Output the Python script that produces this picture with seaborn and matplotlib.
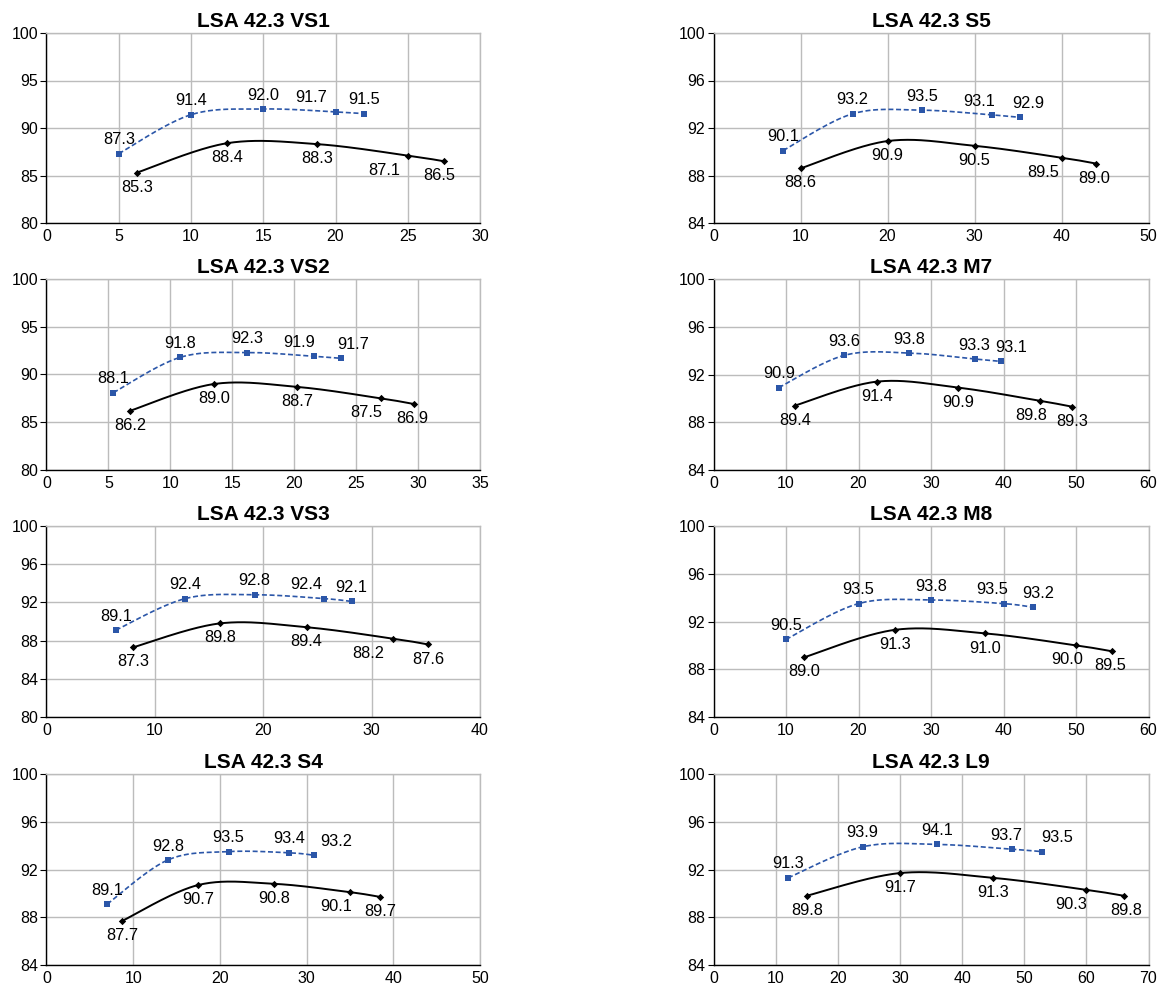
import numpy as np
import pandas as pd
import matplotlib
matplotlib.use("Agg")
import matplotlib.pyplot as plt
import seaborn as sns

# panel titles, left column first row by row
titles = ["LSA 42.3 VS1", "LSA 42.3 S5", "LSA 42.3 VS2", "LSA 42.3 M7",
          "LSA 42.3 VS3", "LSA 42.3 M8", "LSA 42.3 S4", "LSA 42.3 L9"]

# blue dashed series (squares)
blue_x = [[5, 10, 15, 20, 22],
          [8, 16, 24, 32, 35.2],
          [5.4, 10.8, 16.2, 21.6, 23.76],
          [9, 18, 27, 36, 39.6],
          [6.4, 12.8, 19.2, 25.6, 28.16],
          [10, 20, 30, 40, 44],
          [7, 14, 21, 28, 30.8],
          [12, 24, 36, 48, 52.8]]
blue_y = [[87.3, 91.4, 92.0, 91.7, 91.5],
          [90.1, 93.2, 93.5, 93.1, 92.9],
          [88.1, 91.8, 92.3, 91.9, 91.7],
          [90.9, 93.6, 93.8, 93.3, 93.1],
          [89.1, 92.4, 92.8, 92.4, 92.1],
          [90.5, 93.5, 93.8, 93.5, 93.2],
          [89.1, 92.8, 93.5, 93.4, 93.2],
          [91.3, 93.9, 94.1, 93.7, 93.5]]

# black solid series (diamonds)
black_x = [[6.25, 12.5, 18.75, 25, 27.5],
           [10, 20, 30, 40, 44],
           [6.75, 13.5, 20.25, 27, 29.7],
           [11.25, 22.5, 33.75, 45, 49.5],
           [8, 16, 24, 32, 35.2],
           [12.5, 25, 37.5, 50, 55],
           [8.75, 17.5, 26.25, 35, 38.5],
           [15, 30, 45, 60, 66]]
black_y = [[85.3, 88.4, 88.3, 87.1, 86.5],
           [88.6, 90.9, 90.5, 89.5, 89.0],
           [86.2, 89.0, 88.7, 87.5, 86.9],
           [89.4, 91.4, 90.9, 89.8, 89.3],
           [87.3, 89.8, 89.4, 88.2, 87.6],
           [89.0, 91.3, 91.0, 90.0, 89.5],
           [87.7, 90.7, 90.8, 90.1, 89.7],
           [89.8, 91.7, 91.3, 90.3, 89.8]]

# axis ranges
x_max = [30, 50, 35, 60, 40, 60, 50, 70]
x_step = [5, 10, 5, 10, 10, 10, 10, 10]
y_min = [80, 84, 80, 84, 80, 84, 84, 84]
y_step = [5, 4, 5, 4, 4, 4, 4, 4]

# horizontal nudges of the value labels (pixels), like the hand-placed Excel labels
blue_dx = [[0, 0, 0, -24, 0], [0, 0, 0, -13, 9], [0, 0, 0, -15, 12], [0, 0, 0, 0, 11],
           [0, 0, 0, -18, 0], [0, 0, 0, -11, 6], [0, 0, 0, 0, 23], [0, 0, 0, -6, 16]]
black_dx = [[0, 0, 0, -24, -5], [0, 0, 0, -18, -2], [0, 0, 0, -15, -2], [0, 0, 0, -9, 0],
            [0, 0, 0, -25, 0], [0, 0, 0, -9, -2], [0, 0, 0, -14, 0], [0, 0, 0, -15, 3]]

BLUE = "#2b56a8"
GRID = "#bcbcbc"


def smooth(x, y, n=40):
    # Excel style smoothed line: Bezier pieces through the points (Catmull-Rom)
    p = np.column_stack([x, y]).astype(float)
    p = np.vstack([p[0], p, p[-1]])
    t = np.linspace(0, 1, n)[:, None]
    segs = []
    for i in range(1, len(p) - 2):
        p0, p1, p2, p3 = p[i - 1], p[i], p[i + 1], p[i + 2]
        c1 = p1 + (p2 - p0) / 6
        c2 = p2 - (p3 - p1) / 6
        segs.append((1 - t) ** 3 * p1 + 3 * (1 - t) ** 2 * t * c1
                    + 3 * (1 - t) * t ** 2 * c2 + t ** 3 * p2)
    s = np.vstack(segs)
    return pd.DataFrame({"x": s[:, 0], "y": s[:, 1]})


sns.set_theme(style="whitegrid")
plt.rcParams["font.family"] = ["Liberation Sans", "DejaVu Sans"]
plt.rcParams["text.color"] = "black"
plt.rcParams["xtick.color"] = "black"
plt.rcParams["ytick.color"] = "black"

fig = plt.figure(figsize=(11.6, 9.92), dpi=100)

W, H = 1160, 992
col_left = [46.5, 713.5]
col_width = [433.5, 435]
row_top = [33, 279, 526, 774]
row_bottom = [223, 470, 717, 965]

for k in range(8):
    r, c = divmod(k, 2)
    ax = fig.add_axes([col_left[c] / W, 1 - row_bottom[r] / H,
                       col_width[c] / W, (row_bottom[r] - row_top[r]) / H])

    sb = smooth(blue_x[k], blue_y[k])
    sk = smooth(black_x[k], black_y[k])
    sns.lineplot(data=sb, x="x", y="y", sort=False, ax=ax, color=BLUE,
                 linewidth=1.2, linestyle=(0, (3, 1.6)))
    sns.lineplot(data=sk, x="x", y="y", sort=False, ax=ax, color="black",
                 linewidth=1.4)
    sns.scatterplot(x=blue_x[k], y=blue_y[k], ax=ax, marker="s", s=22,
                    color=BLUE, edgecolor=BLUE, linewidth=0, zorder=5)
    sns.scatterplot(x=black_x[k], y=black_y[k], ax=ax, marker="D", s=14,
                    color="black", edgecolor="black", linewidth=0, zorder=5)

    for i, (xv, yv) in enumerate(zip(blue_x[k], blue_y[k])):
        ax.annotate(f"{yv:.1f}", (xv, yv), xytext=(blue_dx[k][i] * 0.72, 10),
                    textcoords="offset points", ha="center", va="center",
                    fontsize=11.8, color="black")
    for i, (xv, yv) in enumerate(zip(black_x[k], black_y[k])):
        ax.annotate(f"{yv:.1f}", (xv, yv), xytext=(black_dx[k][i] * 0.72, -10.5),
                    textcoords="offset points", ha="center", va="center",
                    fontsize=11.8, color="black")

    ax.set_xlim(0, x_max[k])
    ax.set_ylim(y_min[k], 100)
    ax.set_xticks(np.arange(0, x_max[k] + 0.1, x_step[k]))
    ax.set_yticks(np.arange(y_min[k], 100.1, y_step[k]))
    ax.grid(True, color=GRID, linewidth=1.0)
    ax.set_axisbelow(True)
    ax.set_xlabel("")
    ax.set_ylabel("")
    ax.set_title(titles[k], fontsize=15, fontweight="bold", pad=4, color="black")
    ax.tick_params(axis="y", labelsize=11.5, length=4, width=0.8,
                   color="black", pad=2, left=True)
    ax.tick_params(axis="x", labelsize=11.5, length=0, pad=4)
    for side in ["left", "bottom"]:
        ax.spines[side].set_color("black")
        ax.spines[side].set_linewidth(1.0)
    for side in ["top", "right"]:
        ax.spines[side].set_color(GRID)
        ax.spines[side].set_linewidth(1.0)

plt.savefig("out.png", dpi=100, facecolor="white")
